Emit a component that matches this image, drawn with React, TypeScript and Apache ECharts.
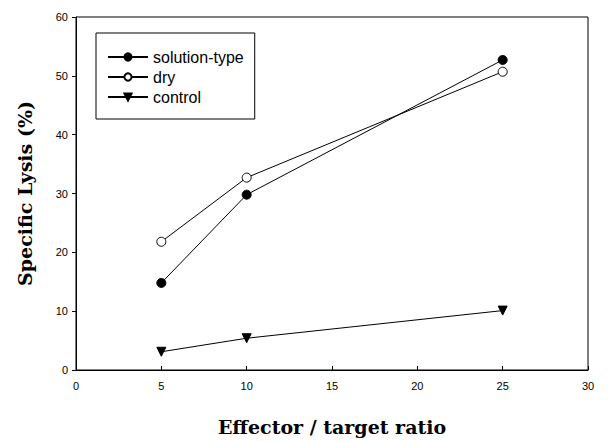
import React, { useEffect, useRef } from "react";
import * as echarts from "echarts";

const ratios = [5, 10, 25];
const solutionType = [14.8, 29.8, 52.7];
const dry = [21.8, 32.7, 50.7];
const control = [3.1, 5.4, 10.1];

export default function App() {
  const ref = useRef<HTMLDivElement>(null);
  useEffect(() => {
    const chart = echarts.init(ref.current!, null, { renderer: "svg" });
    const mk = (arr: number[]) => ratios.map((r, i) => [r, arr[i]]);
    chart.setOption({
      animation: false,
      backgroundColor: "#ffffff",
      grid: { left: 76, right: 20, top: 17, bottom: 69, show: true, borderColor: "#000", borderWidth: 1 },
      legend: {
        orient: "vertical",
        left: 96,
        top: 33,
        padding: [16, 11, 14, 11],
        itemWidth: 40,
        itemHeight: 9,
        itemGap: 4,
        borderColor: "#000",
        borderWidth: 1,
        textStyle: { fontFamily: "Liberation Sans", fontSize: 16, color: "#000" },
        data: ["solution-type", "dry", "control"],
      },
      xAxis: {
        type: "value",
        min: 0,
        max: 30,
        interval: 5,
        splitLine: { show: false },
        axisLine: { lineStyle: { color: "#000" } },
        axisTick: { inside: true, length: 4, lineStyle: { color: "#000" } },
        axisLabel: { color: "#000", fontFamily: "Liberation Sans", fontSize: 11, margin: 10 },
        name: "Effector / target ratio",
        nameLocation: "middle",
        nameGap: 47,
        nameTextStyle: { fontFamily: "DejaVu Serif", fontWeight: "bold", fontSize: 19, color: "#000" },
      },
      yAxis: {
        type: "value",
        min: 0,
        max: 60,
        interval: 10,
        splitLine: { show: false },
        axisLine: { lineStyle: { color: "#000" } },
        axisTick: { inside: false, length: 4, lineStyle: { color: "#000" } },
        axisLabel: { color: "#000", fontFamily: "Liberation Sans", fontSize: 11, margin: 8 },
        name: "Specific Lysis (%)",
        nameLocation: "middle",
        nameGap: 42,
        nameTextStyle: { fontFamily: "DejaVu Serif", fontWeight: "bold", fontSize: 19, color: "#000" },
      },
      series: [
        {
          name: "solution-type",
          type: "line",
          data: mk(solutionType),
          symbol: "circle",
          symbolSize: 9,
          lineStyle: { color: "#000", width: 1 },
          itemStyle: { color: "#000", borderColor: "#000", borderWidth: 1 },
        },
        {
          name: "dry",
          type: "line",
          data: mk(dry),
          symbol: "circle",
          symbolSize: 9,
          lineStyle: { color: "#000", width: 1 },
          itemStyle: { color: "#fff", borderColor: "#000", borderWidth: 1 },
        },
        {
          name: "control",
          type: "line",
          data: mk(control),
          symbol: "triangle",
          symbolRotate: 180,
          symbolSize: 9,
          lineStyle: { color: "#000", width: 1 },
          itemStyle: { color: "#000", borderColor: "#000", borderWidth: 1 },
        },
      ],
    });
    return () => chart.dispose();
  }, []);
  return <div ref={ref} style={{ width: 608, height: 441, position: "absolute", left: 0, top: 0 }} />;
}
